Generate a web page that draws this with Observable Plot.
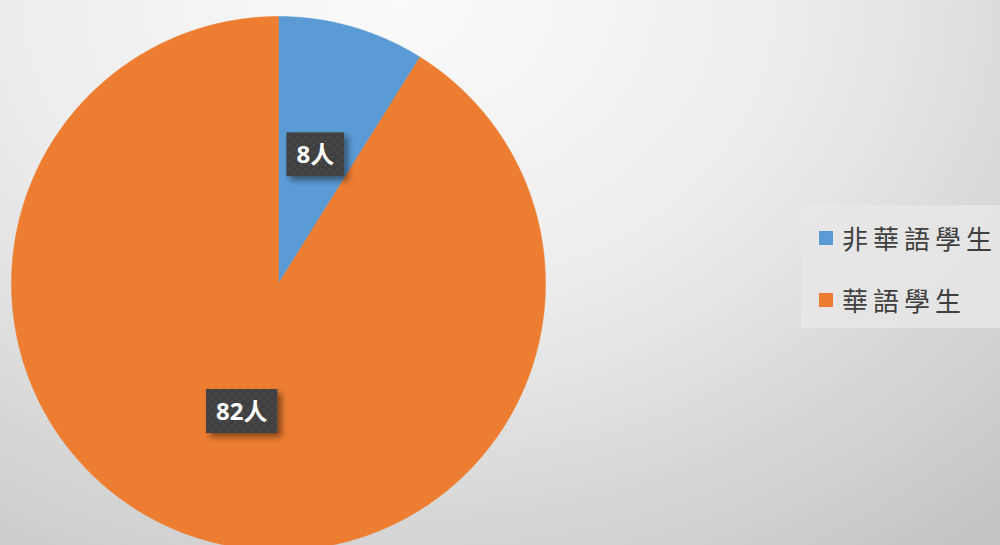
<!DOCTYPE html>
<html>
<head>
<meta charset="utf-8">
<script src="https://cdn.jsdelivr.net/npm/d3@7"></script>
<script src="https://cdn.jsdelivr.net/npm/@observablehq/plot@0.6"></script>
<style>
  html, body { margin: 0; padding: 0; }
  #wrap {
    position: relative; width: 1000px; height: 545px; overflow: hidden;
    background: radial-gradient(ellipse 900px 700px at 40% 0%, #fbfbfb 0%, #ececec 45%, #d6d6d6 75%, #c4c4c4 100%);
  }
  #legend {
    position: absolute; left: 801px; top: 205px; width: 210px; height: 123px;
    background: rgba(232,232,232,0.75);
    font-family: "Noto Sans CJK TC", "Noto Sans CJK SC", sans-serif;
    font-size: 26px; color: #404040; letter-spacing: 5px;
  }
  .row { position: absolute; left: 18px; display: flex; align-items: center; white-space: nowrap; }
  .sw { width: 14px; height: 14px; margin-right: 9px; }
</style>
</head>
<body>
<div id="wrap"><div id="chart"></div><div id="legend"></div></div>
<script>
const categories = ["非華語學生", "華語學生"];
const values = [8, 82];
const labels = ["8人", "82人"];
const colors = ["#5B9BD5", "#ED7D31"];

const pie = d3.pie().sort(null).value(d => d)(values);

// polygon points for each slice, in unit-circle coordinates (angle clockwise from 12 o'clock)
const polys = [];
pie.forEach((p, i) => {
  const n = Math.max(4, Math.ceil((p.endAngle - p.startAngle) / 0.005));
  polys.push({cat: categories[i], x: 0, y: 0});
  for (let j = 0; j <= n; j++) {
    const a = p.startAngle + (p.endAngle - p.startAngle) * j / n;
    polys.push({cat: categories[i], x: Math.sin(a), y: Math.cos(a)});
  }
  polys.push({cat: categories[i], x: 0, y: 0});
});
const labelData = pie.map((p, i) => {
  const a = (p.startAngle + p.endAngle) / 2;
  return {label: labels[i], x: 0.5 * Math.sin(a), y: 0.5 * Math.cos(a)};
});

const W = 1000, H = 545, cx = 278, cy = 283, R = 267;
const chart = Plot.plot({
  width: W, height: H,
  margin: 0,
  style: {background: "transparent", overflow: "visible"},
  x: {domain: [-cx / R, (W - cx) / R], axis: null},
  y: {domain: [-(H - cy) / R, cy / R], axis: null},
  color: {domain: categories, range: colors},
  marks: [
    Plot.line(polys, {x: "x", y: "y", z: "cat", fill: "cat", stroke: "cat", strokeWidth: 0.5, curve: "linear",
      style: "filter: drop-shadow(0px 0px 6px rgba(0,0,0,0.25))"}),
    Plot.text(labelData, {x: "x", y: "y", text: "label", fill: "white", fontSize: 24, fontWeight: "bold",
      fontFamily: "'Open Sans', 'Noto Sans CJK TC', sans-serif", className: "lbl"})
  ]
});
document.getElementById("chart").appendChild(chart);

// label boxes with dotted dark texture and shadow
const svg = d3.select(chart);
const defs = svg.insert("defs", ":first-child");
const pat = defs.append("pattern").attr("id", "dots").attr("width", 8).attr("height", 8).attr("patternUnits", "userSpaceOnUse");
pat.append("rect").attr("width", 8).attr("height", 8).attr("fill", "#404040");
pat.append("circle").attr("cx", 2).attr("cy", 2).attr("r", 1.4).attr("fill", "#4a4a4a");
pat.append("circle").attr("cx", 6).attr("cy", 6).attr("r", 1.4).attr("fill", "#4a4a4a");
const flt = defs.append("filter").attr("id", "shd").attr("x", "-30%").attr("y", "-30%").attr("width", "170%").attr("height", "170%");
flt.append("feDropShadow").attr("dx", 4).attr("dy", 4).attr("stdDeviation", 3).attr("flood-color", "#000").attr("flood-opacity", 0.45);

svg.selectAll("g.lbl text").each(function() {
  const b = this.getBBox();
  const w = b.width + 20, h = 44;
  const mx = b.x + b.width / 2, my = b.y + b.height / 2;
  const r = d3.select(this.parentNode).insert("rect", () => this)
    .attr("x", mx - w / 2).attr("y", my - h / 2 + 1).attr("width", w).attr("height", h)
    .attr("fill", "url(#dots)").attr("filter", "url(#shd)");
  const t = this.getAttribute("transform");
  if (t) r.attr("transform", t);
});

// legend
const leg = document.getElementById("legend");
categories.forEach((c, i) => {
  const row = document.createElement("div");
  row.className = "row";
  row.style.top = (i === 0 ? 14 : 76) + "px";
  row.innerHTML = `<div class="sw" style="background:${colors[i]}"></div><span>${c}</span>`;
  leg.appendChild(row);
});
</script>
</body>
</html>
